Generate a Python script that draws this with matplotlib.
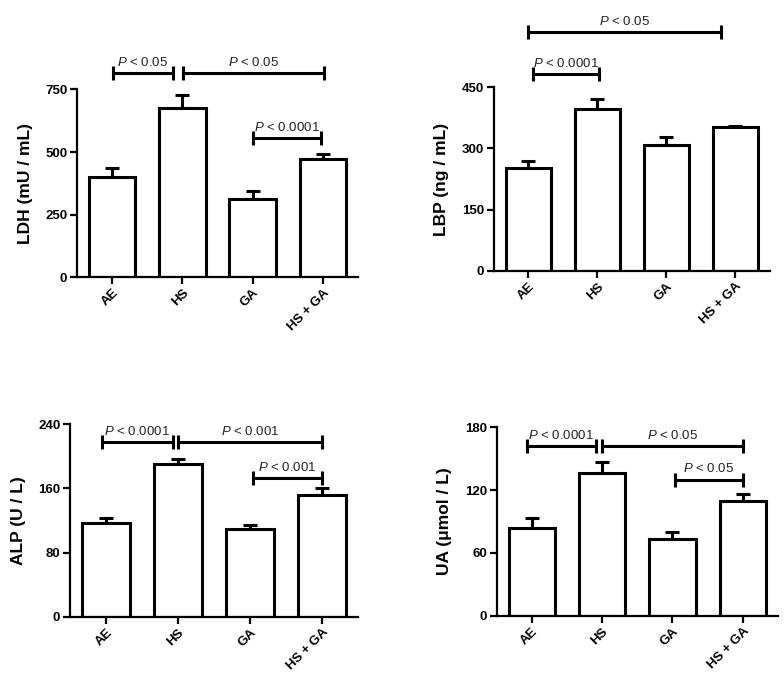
import numpy as np
import matplotlib
matplotlib.use("Agg")
import matplotlib.pyplot as plt

""" DATA """

groups = ["AE", "HS", "GA", "HS + GA"]

ldh_mean = [400, 674, 311, 472]
ldh_err = [37, 53, 33, 21]
ldh_brackets = [(0.01, 0.86, 816, "< 0.05"), (1.01, 3.01, 816, "< 0.05"), (2.0, 2.97, 557, "< 0.0001")]

lbp_mean = [251, 396, 308, 353]
lbp_err = [19, 25, 20, 2]
lbp_brackets = [(0.06, 1.03, 483, "< 0.0001"), (0.0, 2.79, 585, "< 0.05")]

alp_mean = [117, 190, 110, 152]
alp_err = [6.5, 7, 4, 8]
alp_brackets = [(-0.06, 0.93, 218, "< 0.0001"), (1.0, 3.0, 218, "< 0.001"), (2.04, 3.0, 173, "< 0.001")]

ua_mean = [83.5, 136, 73, 110]
ua_err = [9.5, 11, 7, 6]
ua_brackets = [(-0.07, 0.91, 162, "< 0.0001"), (1.0, 3.0, 162, "< 0.05"), (2.03, 3.0, 130, "< 0.05")]

""" STYLE """

plt.rcParams['font.family'] = ['Liberation Sans', 'DejaVu Sans']
plt.rcParams['mathtext.fontset'] = 'custom'
plt.rcParams['mathtext.rm'] = 'Liberation Sans'
plt.rcParams['mathtext.it'] = 'Liberation Sans:italic'


def draw_panel(fig, rect, mean, err, ymax, yticks, ylabel, brackets):
    ax = fig.add_axes(rect)
    x = np.arange(len(groups))
    ax.bar(x, mean, width=0.66, color="white", edgecolor="black", linewidth=2.2, zorder=2)
    ax.errorbar(x, mean, yerr=[np.zeros(len(err)), err], fmt="none", ecolor="black",
                elinewidth=2.2, capsize=5, capthick=2.2, zorder=1)

    ax.set_xlim(-0.5, 3.5)
    ax.set_ylim(0, ymax)
    ax.set_yticks(yticks)
    ax.set_xticks(x)
    ax.set_xticklabels(groups, rotation=45, ha="right", rotation_mode="anchor",
                       fontsize=9.5, fontweight="bold")
    for lab in ax.get_yticklabels():
        lab.set_fontweight("bold")
        lab.set_fontsize(9.5)
    ax.set_ylabel(ylabel, fontsize=12.5, fontweight="bold", labelpad=9)

    for side in ["top", "right"]:
        ax.spines[side].set_visible(False)
    for side in ["left", "bottom"]:
        ax.spines[side].set_linewidth(1.6)
    ax.tick_params(width=1.6, length=5, pad=2)

    # significance brackets
    for x1, x2, y, label in brackets:
        ax.plot([x1, x2], [y, y], color="black", lw=2.2, marker="|", markersize=10,
                mew=2.2, clip_on=False, solid_capstyle="butt")
        ax.annotate(r"$\mathit{P}$ " + label, xy=((x1 + x2) / 2, y), xytext=(0, 3),
                    textcoords="offset points", ha="center", va="bottom", fontsize=9.5,
                    color="#222222", annotation_clip=False)
    return ax


fig = plt.figure(figsize=(7.84, 6.88), dpi=100)
fig.patch.set_facecolor("white")

draw_panel(fig, [0.0982, 0.597, 0.3584, 0.273], ldh_mean, ldh_err, 750,
           [0, 250, 500, 750], "LDH (mU / mL)", ldh_brackets)
draw_panel(fig, [0.630, 0.6065, 0.352, 0.2665], lbp_mean, lbp_err, 450,
           [0, 150, 300, 450], "LBP (ng / mL)", lbp_brackets)
draw_panel(fig, [0.0893, 0.1036, 0.3673, 0.2797], alp_mean, alp_err, 240,
           [0, 80, 160, 240], "ALP (U / L)", alp_brackets)
draw_panel(fig, [0.6335, 0.105, 0.3588, 0.274], ua_mean, ua_err, 180,
           [0, 60, 120, 180], "UA (\u03bcmol / L)", ua_brackets)

fig.savefig("out.png", dpi=100)
